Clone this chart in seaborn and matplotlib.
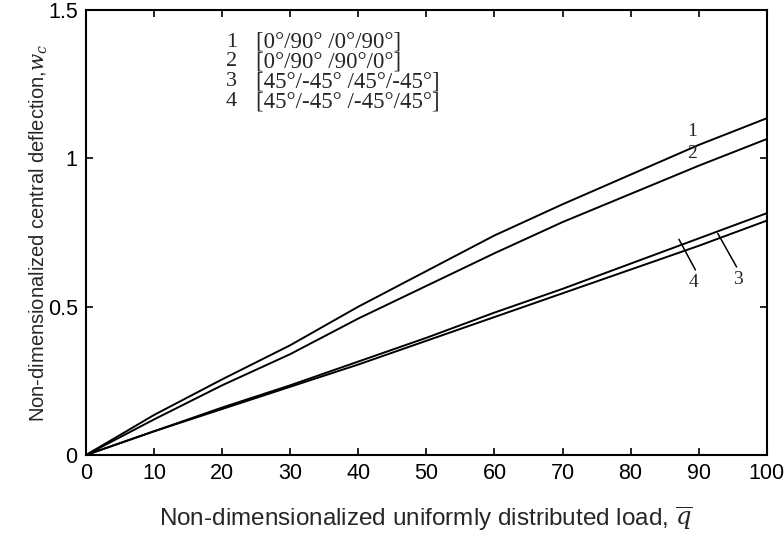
import pandas as pd
import matplotlib
matplotlib.use('Agg')
import matplotlib.pyplot as plt
import seaborn as sns

# Data
q = [0, 10, 20, 30, 40, 50, 60, 70, 80, 90, 100]
w_1 = [0, 0.135, 0.255, 0.37, 0.50, 0.62, 0.74, 0.845, 0.945, 1.045, 1.135]
w_2 = [0, 0.12, 0.235, 0.34, 0.46, 0.57, 0.68, 0.785, 0.88, 0.975, 1.065]
w_3 = [0, 0.08, 0.155, 0.23, 0.305, 0.385, 0.465, 0.545, 0.625, 0.705, 0.79]
w_4 = [0, 0.08, 0.16, 0.235, 0.315, 0.395, 0.48, 0.56, 0.645, 0.73, 0.815]
curve_ids = ['1', '2', '3', '4']
layups = ['[0°/90° /0°/90°]', '[0°/90° /90°/0°]',
          '[45°/-45° /45°/-45°]', '[45°/-45° /-45°/45°]']

sns.set_style('ticks')
plt.rcParams['font.family'] = ['Liberation Sans', 'DejaVu Sans']
plt.rcParams['mathtext.fontset'] = 'dejavuserif'

rows = []
for cid, w in zip(curve_ids, [w_1, w_2, w_3, w_4]):
    for x, y in zip(q, w):
        rows.append({'q': x, 'w': y, 'curve': cid})
df = pd.DataFrame(rows)

fig = plt.figure(figsize=(7.84, 5.48), dpi=100)
ax = fig.add_axes([0.1097, 0.1697, 0.8683, 0.8121])
sns.lineplot(data=df, x='q', y='w', hue='curve', palette=['black'] * 4,
             linewidth=1.4, legend=False, ax=ax)

ax.set_xlim(0, 100)
ax.set_ylim(0, 1.5)
ax.set_xticks(range(0, 101, 10))
ax.set_yticks([0, 0.5, 1, 1.5])
ax.set_yticklabels(['0', '0.5', '1', '1.5'])
ax.tick_params(direction='in', length=5, width=1.2, top=True, right=True,
               labelsize=15.5, colors='black', pad=6)
for s in ax.spines.values():
    s.set_linewidth(1.5)
    s.set_color('black')

ax.set_xlabel(r'Non-dimensionalized uniformly distributed load, $\overline{q}$',
              fontsize=17.5, labelpad=15)
ax.set_ylabel(r'Non-dimensionalized central deflection,$w_c$', fontsize=14.5,
              labelpad=-2)

# legend block as text
serif = ['Liberation Serif', 'DejaVu Serif']
leg_y = [1.392, 1.325, 1.258, 1.19]
for cid, lab, y in zip(curve_ids, layups, leg_y):
    ax.text(21.4, y, cid, family=serif, fontsize=16, va='center', ha='center')
    ax.text(25.0, y, lab, family=serif, fontsize=16.5, va='center', ha='left')

# curve labels
ax.text(89.1, 1.09, '1', family=serif, fontsize=14, ha='center', va='center')
ax.text(89.1, 1.015, '2', family=serif, fontsize=14, ha='center', va='center')
ax.annotate('4', xy=(87.1, 0.727), xytext=(89.3, 0.58), family=serif,
            fontsize=14, ha='center', va='center',
            arrowprops=dict(arrowstyle='-', color='black', lw=1.1,
                            relpos=(0.9, 1.0), shrinkA=1, shrinkB=0))
ax.annotate('3', xy=(92.8, 0.747), xytext=(95.8, 0.59), family=serif,
            fontsize=14, ha='center', va='center',
            arrowprops=dict(arrowstyle='-', color='black', lw=1.1,
                            relpos=(0.6, 1.0), shrinkA=1, shrinkB=0))

fig.savefig('out.png', dpi=100)
